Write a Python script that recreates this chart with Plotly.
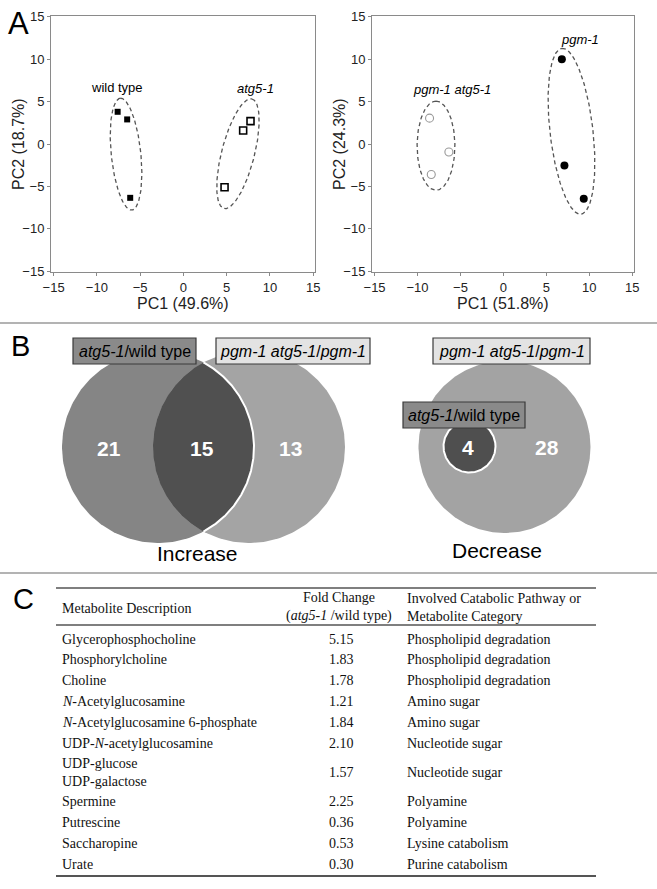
import numpy as np
import plotly.graph_objects as go

W, H = 657, 889
SANS = "Liberation Sans"
SERIF = "Liberation Serif"

# ---------------- Panel A data (PCA scores) ----------------
wt_x = [-7.6, -6.5, -6.15]
wt_y = [3.8, 2.9, -6.35]
atg_x = [4.75, 6.9, 7.75]
atg_y = [-5.1, 1.6, 2.7]
pa_x = [-8.6, -6.35, -8.4]      # pgm-1 atg5-1
pa_y = [3.05, -0.95, -3.6]
pgm_x = [6.8, 7.1, 9.35]        # pgm-1
pgm_y = [10.0, -2.55, -6.45]

# confidence ellipses: centre x, centre y, semi-major, semi-minor, tilt (deg from vertical)
ell_wt = [-6.63, -1.2, 6.63, 1.71, -5.8]
ell_atg = [6.3, -1.15, 6.66, 1.9, 14.0]
ell_pa = [-7.85, -0.2, 5.25, 2.2, 0.0]
ell_pgm = [7.92, 1.5, 9.84, 2.5, -6.5]

pc_left = ["PC1 (49.6%)", "PC2 (18.7%)"]
pc_right = ["PC1 (51.8%)", "PC2 (24.3%)"]
ticks = [-15, -10, -5, 0, 5, 10, 15]

# ---------------- Panel B data (Venn counts) ----------------
inc_counts = [21, 15, 13]       # atg5-1 only, both, pgm-1 atg5-1 only
dec_counts = [4, 28]            # inner, outer

# ---------------- Panel C data (table) ----------------
metabolites = ["Glycerophosphocholine", "Phosphorylcholine", "Choline",
               "<i>N</i>-Acetylglucosamine", "<i>N</i>-Acetylglucosamine 6-phosphate",
               "UDP-<i>N</i>-acetylglucosamine", "UDP-glucose<br>UDP-galactose",
               "Spermine", "Putrescine", "Saccharopine", "Urate"]
fold_change = [5.15, 1.83, 1.78, 1.21, 1.84, 2.10, 1.57, 2.25, 0.36, 0.53, 0.30]
categories = ["Phospholipid degradation", "Phospholipid degradation", "Phospholipid degradation",
              "Amino sugar", "Amino sugar", "Nucleotide sugar", "Nucleotide sugar",
              "Polyamine", "Polyamine", "Lysine catabolism", "Purine catabolism"]


def ellipse(p, n=200):
    cx, cy, a, b, th = p
    t = np.linspace(0, 2 * np.pi, n)
    th = np.radians(th)
    x = cx + a * np.cos(t) * np.sin(th) + b * np.sin(t) * np.cos(th)
    y = cy + a * np.cos(t) * np.cos(th) - b * np.sin(t) * np.sin(th)
    return x, y


def circle(cx, cy, r, a0=0, a1=2 * np.pi, n=240):
    t = np.linspace(a0, a1, n)
    return cx + r * np.cos(t), cy + r * np.sin(t)


fig = go.Figure()

# ---- panel A traces
ell_style = dict(mode="lines", line=dict(color="#555555", width=1.3, dash="4px,3px"),
                 hoverinfo="skip", showlegend=False)
for p, ax in [(ell_wt, 1), (ell_atg, 1), (ell_pa, 2), (ell_pgm, 2)]:
    ex, ey = ellipse(p)
    fig.add_trace(go.Scatter(x=ex, y=ey, xaxis="x" if ax == 1 else "x2",
                             yaxis="y" if ax == 1 else "y2", **ell_style))

fig.add_trace(go.Scatter(x=wt_x, y=wt_y, mode="markers", showlegend=False,
                         marker=dict(symbol="square", size=6, color="black")))
fig.add_trace(go.Scatter(x=atg_x, y=atg_y, mode="markers", showlegend=False,
                         marker=dict(symbol="square-open", size=7, color="black",
                                     line=dict(width=1.6, color="black"))))
fig.add_trace(go.Scatter(x=pa_x, y=pa_y, mode="markers", showlegend=False, xaxis="x2", yaxis="y2",
                         marker=dict(symbol="circle-open", size=8, color="#999999",
                                     line=dict(width=1.1, color="#999999"))))
fig.add_trace(go.Scatter(x=pgm_x, y=pgm_y, mode="markers", showlegend=False, xaxis="x2", yaxis="y2",
                         marker=dict(symbol="circle", size=8, color="black")))

# ---- panel B Venn (overlay axes in pixel units)
c1 = (158, 447, 96)
c2 = (249, 447, 96)
d = c2[0] - c1[0]
alpha1 = np.arccos((d ** 2 + c1[2] ** 2 - c2[2] ** 2) / (2 * d * c1[2]))
alpha2 = np.arccos((d ** 2 + c2[2] ** 2 - c1[2] ** 2) / (2 * d * c2[2]))

def filled(x, y, color):
    fig.add_trace(go.Scatter(x=x, y=y, xaxis="x3", yaxis="y3", mode="lines", fill="toself",
                             fillcolor=color, line=dict(width=0, color=color),
                             hoverinfo="skip", showlegend=False))

x, y = circle(*c1); filled(x, y, "#858585")
x, y = circle(*c2); filled(x, y, "#a4a4a4")
ax1, ay1 = circle(c1[0], c1[1], c1[2], -alpha1, alpha1)
ax2, ay2 = circle(c2[0], c2[1], c2[2], np.pi - alpha2, np.pi + alpha2)
filled(np.concatenate([ax1, ax2]), np.concatenate([ay1, ay2]), "#505050")
fig.add_trace(go.Scatter(x=ax1, y=ay1, xaxis="x3", yaxis="y3", mode="lines",
                         line=dict(color="white", width=2), hoverinfo="skip", showlegend=False))

big = (504.5, 447, 86)
small = (469.5, 446.5, 26)
x, y = circle(*big); filled(x, y, "#a3a3a3")
x, y = circle(*small)
fig.add_trace(go.Scatter(x=x, y=y, xaxis="x3", yaxis="y3", mode="lines", fill="toself",
                         fillcolor="#4f4f4f", line=dict(width=2, color="white"),
                         hoverinfo="skip", showlegend=False))

# ---- layout axes
def px_dom_x(a, b):
    return [a / W, b / W]

def px_dom_y(top, bottom):
    return [1 - bottom / H, 1 - top / H]

axis_common = dict(showgrid=False, zeroline=False, showline=True, linecolor="#8a8a8a", linewidth=1,
                   mirror=True, ticks="outside", ticklen=3, tickcolor="#8a8a8a",
                   tickvals=ticks, tickfont=dict(family=SANS, size=13, color="#222222"),
                   fixedrange=True)

layout = dict(
    width=W, height=H, margin=dict(l=0, r=0, t=0, b=0, autoexpand=False),
    paper_bgcolor="white", plot_bgcolor="rgba(0,0,0,0)", hovermode=False,
    xaxis=dict(domain=px_dom_x(51, 315), range=[-15.3, 15.2], anchor="y", **axis_common),
    yaxis=dict(domain=px_dom_y(16, 272), range=[-15.1, 15.1], anchor="x", **axis_common),
    xaxis2=dict(domain=px_dom_x(372, 634), range=[-15.3, 15.2], anchor="y2", **axis_common),
    yaxis2=dict(domain=px_dom_y(16, 272), range=[-15.1, 15.1], anchor="x2", **axis_common),
    xaxis3=dict(domain=[0, 1], range=[0, W], visible=False, fixedrange=True, anchor="y3"),
    yaxis3=dict(domain=[0, 1], range=[H, 0], visible=False, fixedrange=True, anchor="x3"),
)
fig.update_layout(**layout)

ann = []
shapes = []

def txt(x, y, s, size=14, family=SANS, color="black", xanchor="center", ref="3", **kw):
    ann.append(dict(x=x, y=y, text=s, xref="x" + ref if ref != "1" else "x",
                    yref="y" + ref if ref != "1" else "y", showarrow=False,
                    font=dict(family=family, size=size, color=color),
                    xanchor=xanchor, yanchor="middle", **kw))

# panel letters
txt(6, 23, "A", size=31, xanchor="left")
txt(9, 346, "B", size=29, xanchor="left")
txt(11, 599, "C", size=29, xanchor="left")

# panel A group labels (data coordinates)
txt(-7.7, 6.7, "wild type", size=13, ref="1")
txt(8.3, 6.6, "<i>atg5-1</i>", size=13, ref="1")
txt(-5.96, 6.4, "<i>pgm-1 atg5-1</i>", size=13, ref="2")
txt(8.9, 12.3, "<i>pgm-1</i>", size=13, ref="2")

# axis titles
txt(183, 303, pc_left[0], size=16, color="#222222")
txt(18, 144, pc_left[1], size=16, color="#222222", textangle=-90)
txt(503, 303, pc_right[0], size=16, color="#222222")
txt(339, 144, pc_right[1], size=16, color="#222222", textangle=-90)

# separators
for yy in (323, 573):
    shapes.append(dict(type="line", xref="x3", yref="y3", x0=0, x1=W, y0=yy, y1=yy,
                       line=dict(color="#9a9a9a", width=1.5)))

# Venn label boxes
def box(x0, x1, y0, y1, fill, label):
    shapes.append(dict(type="rect", xref="x3", yref="y3", x0=x0, x1=x1, y0=y0, y1=y1,
                       fillcolor=fill, line=dict(color="#3a3a3a", width=1.2), layer="above"))
    txt((x0 + x1) / 2, (y0 + y1) / 2 + 0.5, label, size=16)

box(73, 196, 338, 364, "#8a8a8a", "<i>atg5-1</i>/wild type")
box(216, 370, 338, 364, "#e3e3e3", "<i>pgm-1 atg5-1</i>/<i>pgm-1</i>")
box(433, 590, 338, 364, "#e3e3e3", "<i>pgm-1 atg5-1</i>/<i>pgm-1</i>")
box(403, 525, 402, 428, "#8a8a8a", "<i>atg5-1</i>/wild type")

# Venn counts
for xx, v in zip([109, 202, 290], inc_counts):
    txt(xx, 448, f"<b>{v}</b>", size=21, color="white")
for xx, v in zip([468, 547], dec_counts):
    txt(xx, 447, f"<b>{v}</b>", size=21, color="white")
txt(197, 553, "Increase", size=21)
txt(497, 550, "Decrease", size=21)

# Panel C table
TL, TR = 56, 596
for yy, w in [(588, 1.5), (625, 1.5), (876, 1.8)]:
    shapes.append(dict(type="line", xref="x3", yref="y3", x0=TL, x1=TR, y0=yy, y1=yy,
                       line=dict(color="#555555", width=w)))
txt(60, 608, "Metabolite Description", size=14, family=SERIF, xanchor="left", color="#111111")
txt(339, 607, "Fold Change<br>(<i>atg5-1</i> /wild type)", size=14, family=SERIF, color="#111111")
txt(405, 607, "Involved Catabolic Pathway or<br>Metabolite Category", size=14, family=SERIF,
    xanchor="left", align="left", color="#111111")

y = 639.0
step = 20.8
inner = 17.0
for name, fc, cat in zip(metabolites, fold_change, categories):
    nl = name.count("<br>") + 1
    cy = y + (nl - 1) * inner / 2
    txt(60, cy, name, size=14, family=SERIF, xanchor="left", align="left", color="#111111")
    txt(341, cy, f"{fc:.2f}", size=14, family=SERIF, color="#111111")
    txt(405, cy, cat, size=14, family=SERIF, xanchor="left", color="#111111")
    y = cy + (nl - 1) * inner / 2 + step

fig.update_layout(annotations=ann, shapes=shapes)
fig.write_html("out.html", config={"displayModeBar": False},
               post_script="document.body.style.margin='0';document.body.style.padding='0';"
                           "document.documentElement.style.overflow='hidden';")
